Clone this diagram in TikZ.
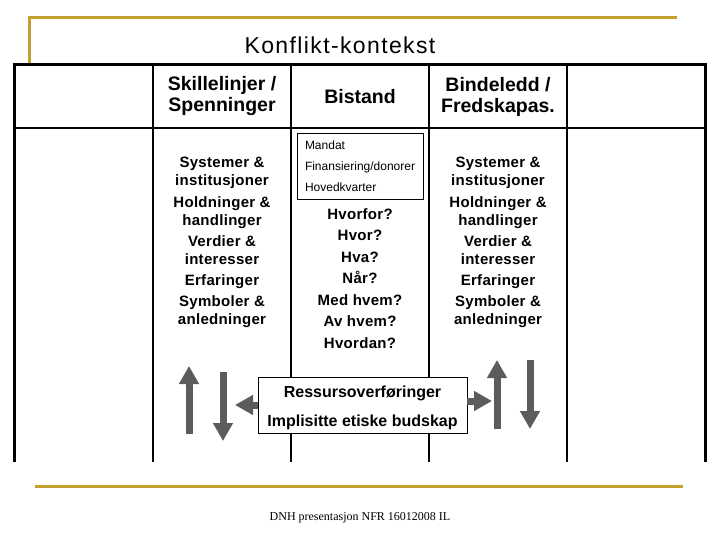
\documentclass[tikz,border=0pt]{standalone}
\usepackage{fontspec}
\setmainfont{Liberation Sans}
\newfontfamily\titlefont[LetterSpace=6]{Liberation Sans}
\newfontfamily\listfont[LetterSpace=2]{Liberation Sans}
\newfontfamily\footfont{Liberation Serif}
\usepackage{tikz}
\usetikzlibrary{positioning,arrows.meta}
\definecolor{rulegold}{RGB}{196,160,48}
\definecolor{arrowgray}{RGB}{92,92,92}

\newcommand{\lowered}[1]{\raisebox{-3pt}[\height][\depth]{#1}}

\begin{document}
\begin{tikzpicture}[
    x=1pt, y=-1pt,
    node distance=9pt,
    goldline/.style={rulegold, line width=3pt},
    frame/.style={black, line width=3pt},
    rule/.style={black, line width=2pt},
    heading/.style={font=\bfseries\fontsize{19.5}{21}\selectfont, align=center, inner sep=0pt},
    listtext/.style={font=\listfont\bfseries\fontsize{15}{18}\selectfont, align=center, inner sep=0pt, anchor=north},
    mandatbox/.style={draw, line width=0.8pt, fill=white, minimum width=126pt, minimum height=66pt, text width=110pt, align=left, font=\fontsize{12}{21}\selectfont},
    transferbox/.style={draw, line width=0.8pt, fill=white, minimum width=209pt, minimum height=56pt, align=center, font=\bfseries\fontsize{16}{29}\selectfont},
    blockarrow/.style={arrowgray, line width=7pt, -{Triangle[width=19pt,length=18pt]}}
]
    \useasboundingbox (0,0) rectangle (720,540);

    % gold rules
    \draw[goldline] (29,65) -- (29,18) -- (677,18);
    \draw[goldline] (35,486) -- (683,486);

    \node[font=\titlefont\fontsize{23}{24}\selectfont] (title) at (340,45) {Konflikt-kontekst};

    % table
    \draw[frame] (14,462) -- (14,65) -- (705,65) -- (705,462);
    \draw[rule] (14,128) -- (705,128);
    \foreach \cx in {153,291,429,567}
        \draw[rule] (\cx,65) -- (\cx,462);

    \node[heading] (skille) at (222,96) {Skillelinjer /\\Spenninger};
    \node[heading] (bistand) at (360,97) {Bistand};
    \node[heading] (binde) at (498,97) {Bindeledd /\\Fredskapas.};

    \node[listtext] (leftlist) at (222,157) {Systemer \&\\institusjoner\\[4pt]
        Holdninger \&\\handlinger\\[3pt]Verdier \&\\interesser\\[3pt]
        Erfaringer\\[3pt]Symboler \&\\anledninger};
    \node[listtext] (rightlist) at (498,157) {Systemer \&\\institusjoner\\[4pt]
        Holdninger \&\\handlinger\\[3pt]Verdier \&\\interesser\\[3pt]
        Erfaringer\\[3pt]Symboler \&\\anledninger};

    \node[mandatbox] (mandat) at (360,166) {Mandat\\Finansiering/donorer\\Hovedkvarter};
    \node[listtext, font=\listfont\bfseries\fontsize{15}{21.5}\selectfont, below=of mandat] (questions)
        {Hvorfor?\\Hvor?\\Hva?\\Når?\\Med hvem?\\Av hvem?\\Hvordan?};

    \node[transferbox] (transfer) at (362.5,405)
        {\lowered{Ressursoverføringer}\\\lowered{Implisitte etiske budskap}};

    % arrows
    \coordinate (lefttip) at (235,405);
    \coordinate (righttip) at (492,401);
    \coordinate (lupA) at (189,434);
    \coordinate (lupB) at (189,366);
    \coordinate (ldownA) at (223,372);
    \coordinate (ldownB) at (223,441);
    \coordinate (rupA) at (497,429);
    \coordinate (rupB) at (497,360);
    \coordinate (rdownA) at (530,360);
    \coordinate (rdownB) at (530,429);

    \draw[blockarrow] (transfer.west) -- (lefttip);
    \draw[blockarrow] (transfer.east |- righttip) -- (righttip);
    \draw[blockarrow] (lupA) -- (lupB);
    \draw[blockarrow] (ldownA) -- (ldownB);
    \draw[blockarrow] (rupA) -- (rupB);
    \draw[blockarrow] (rdownA) -- (rdownB);

    \node[font=\footfont\fontsize{12}{14}\selectfont] (footer) at (360,518) {DNH presentasjon NFR 16012008 IL};
\end{tikzpicture}
\end{document}
